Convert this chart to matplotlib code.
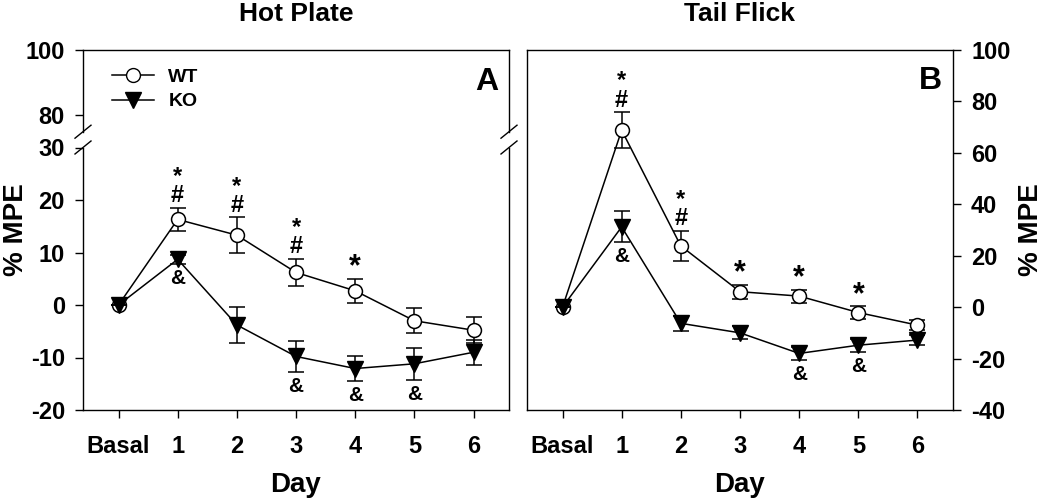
import matplotlib
matplotlib.use("Agg")
import matplotlib.pyplot as plt
from matplotlib.lines import Line2D

plt.rcParams['font.family'] = ['Liberation Sans', 'DejaVu Sans']
plt.rcParams['font.weight'] = 'bold'
plt.rcParams['axes.unicode_minus'] = False

days = ["Basal", "1", "2", "3", "4", "5", "6"]

# Hot Plate (panel A)
hp_wt = [0.0, 16.3, 13.3, 6.2, 2.7, -3.0, -4.8]
hp_wt_err = [0.0, 2.2, 3.4, 2.6, 2.3, 2.4, 2.5]
hp_ko = [0.0, 8.7, -3.8, -9.8, -12.1, -11.2, -9.0]
hp_ko_err = [0.0, 0.8, 3.4, 3.0, 2.3, 3.0, 2.4]
hp_sig = ["", "*\n#", "*\n#", "*\n#", "*", "", ""]
hp_amp = ["", "&", "", "&", "&", "&", ""]

# Tail Flick (panel B)
tf_wt = [0.0, 68.8, 23.8, 6.0, 4.3, -2.1, -7.0]
tf_wt_err = [0.0, 7.0, 6.0, 2.7, 2.5, 2.5, 2.0]
tf_ko = [0.0, 31.2, -6.3, -10.0, -18.0, -14.8, -12.8]
tf_ko_err = [0.0, 6.0, 3.0, 2.5, 2.5, 2.5, 2.0]
tf_sig = ["", "*\n#", "*\n#", "*", "*", "*", ""]
tf_amp = ["", "&", "", "", "&", "&", ""]

x = list(range(len(days)))
W, H = 1050, 500
TICK = 17


def draw_series(ax, wt, wt_err, ko, ko_err, sig, amp):
    ax.errorbar(x, wt, yerr=wt_err, color='black', lw=1.1, elinewidth=1.1,
                capsize=5.5, capthick=1.1, marker='o', ms=10,
                mfc='white', mec='black', mew=1.1, zorder=3)
    ax.errorbar(x, ko, yerr=ko_err, color='black', lw=1.1, elinewidth=1.1,
                capsize=5.5, capthick=1.1, marker='v', ms=12,
                mfc='black', mec='black', zorder=4)
    for i in x:
        top = wt[i] + wt_err[i]
        if sig[i] == "*":
            ax.annotate("*", (i, top), xytext=(0, 8),
                        textcoords='offset points', ha='center', va='center',
                        fontsize=22)
        elif sig[i]:
            ax.annotate(sig[i], (i, top), xytext=(0, 0.5),
                        textcoords='offset points', ha='center', va='bottom',
                        fontsize=17, linespacing=0.78)
        if amp[i]:
            ax.annotate(amp[i], (i, ko[i] - ko_err[i]), xytext=(0, -10.5),
                        textcoords='offset points', ha='center', va='center',
                        fontsize=15)


def style_x(ax):
    ax.set_xlim(-0.6, 6.6)
    ax.set_xticks(x)
    ax.set_xticklabels(days)
    ax.tick_params(axis='x', direction='out', length=6, width=1, pad=12,
                   labelsize=TICK)
    ax.set_xlabel("Day", fontsize=20, fontweight='bold', labelpad=10)


def slash(xp, yp):
    dx, dy = 8 / W, 6.5 / H
    fig.add_artist(Line2D([xp - dx, xp + dx], [yp - dy, yp + dy],
                          transform=fig.transFigure, color='black', lw=1))


fig = plt.figure(figsize=(10.5, 5), dpi=100)

# panel A, broken axis
a_left, a_w = 83 / W, 426 / W
ax_lo = fig.add_axes([a_left, 1 - 410 / H, a_w, (410 - 147.5) / H])
ax_hi = fig.add_axes([a_left, 1 - 131.7 / H, a_w, (131.7 - 50) / H])

draw_series(ax_lo, hp_wt, hp_wt_err, hp_ko, hp_ko_err, hp_sig, hp_amp)
ax_lo.set_ylim(-20, 30)
ax_lo.set_yticks([-20, -10, 0, 10, 20, 30])
ax_lo.spines['top'].set_visible(False)
style_x(ax_lo)
ax_lo.tick_params(axis='y', direction='out', length=6, width=1, pad=7,
                  labelsize=TICK)

ax_hi.set_xlim(-0.6, 6.6)
ax_hi.set_ylim(75, 100)
ax_hi.set_yticks([80, 100])
ax_hi.set_xticks([])
ax_hi.spines['bottom'].set_visible(False)
ax_hi.tick_params(axis='y', direction='out', length=6, width=1, pad=7,
                  labelsize=TICK)
ax_hi.plot([], [], color='black', lw=1.1, marker='o', ms=10, mfc='white',
           mec='black', label='WT')
ax_hi.plot([], [], color='black', lw=1.1, marker='v', ms=12, mfc='black',
           label='KO')
ax_hi.legend(loc='upper left', frameon=False, fontsize=14, handlelength=2.15,
             handletextpad=0.75, borderaxespad=0.0, labelspacing=0.35,
             bbox_to_anchor=(0.05, 0.87))
ax_hi.text(0.975, 0.61, "A", transform=ax_hi.transAxes, ha='right',
           va='center', fontsize=23)

for xp in (a_left, a_left + a_w):
    slash(xp, 1 - 131.7 / H)
    slash(xp, 1 - 147.5 / H)

for a in (ax_lo, ax_hi):
    for s in a.spines.values():
        s.set_linewidth(1)

fig.text(a_left + a_w / 2, 1 - 14 / H, "Hot Plate", ha='center', va='center',
         fontsize=19)
fig.text(16 / W, 1 - 230 / H, "% MPE", rotation=90, ha='center', va='center',
         fontsize=20)

# panel B
ax_b = fig.add_axes([527 / W, 1 - 410 / H, a_w, 360 / H])
draw_series(ax_b, tf_wt, tf_wt_err, tf_ko, tf_ko_err, tf_sig, tf_amp)
ax_b.set_ylim(-40, 100)
ax_b.set_yticks(range(-40, 101, 20))
ax_b.yaxis.tick_right()
ax_b.tick_params(axis='y', direction='out', length=6, width=1, pad=7,
                 labelsize=TICK)
style_x(ax_b)
for s in ax_b.spines.values():
    s.set_linewidth(1)
ax_b.text(0.975, 0.915, "B", transform=ax_b.transAxes, ha='right',
          va='center', fontsize=23)
fig.text(527 / W + a_w / 2, 1 - 14 / H, "Tail Flick", ha='center',
         va='center', fontsize=19)
fig.text(1031 / W, 1 - 230 / H, "% MPE", rotation=90, ha='center',
         va='center', fontsize=20)

fig.savefig("out.png", dpi=100)
